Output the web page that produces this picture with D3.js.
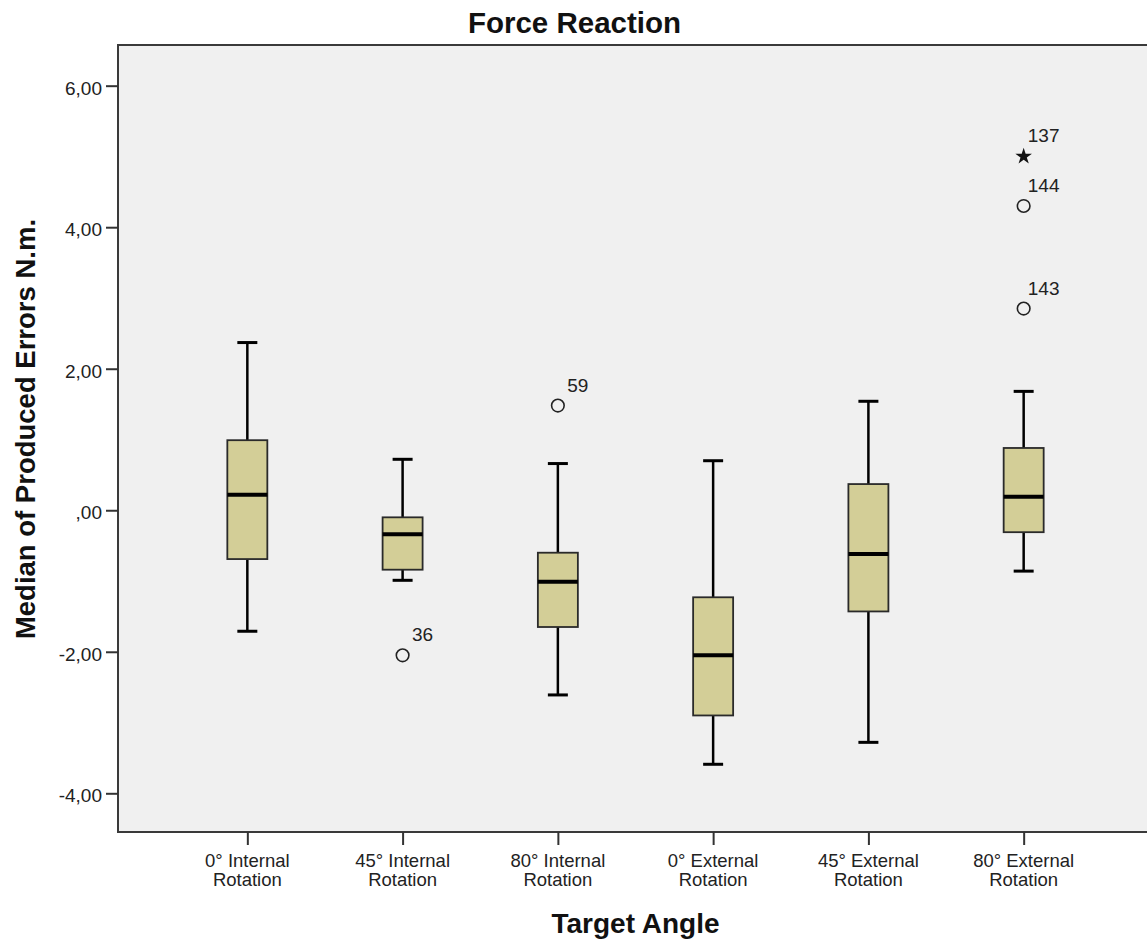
<!DOCTYPE html>
<html>
<head>
<meta charset="utf-8">
<script src="https://cdn.jsdelivr.net/npm/d3@7"></script>
<style>
  body { margin: 0; background: #fff; }
  svg { display: block; font-family: Arial, "Liberation Sans", sans-serif; }
</style>
</head>
<body>
<svg id="chart" width="1147" height="941"></svg>
<script>
const categories = [
  ["0° Internal", "Rotation"],
  ["45° Internal", "Rotation"],
  ["80° Internal", "Rotation"],
  ["0° External", "Rotation"],
  ["45° External", "Rotation"],
  ["80° External", "Rotation"]
];
const whiskerLow  = [-1.71, -0.99, -2.61, -3.59, -3.28, -0.86];
const q1          = [-0.69, -0.84, -1.65, -2.90, -1.43, -0.31];
const median      = [ 0.22, -0.34, -1.01, -2.05, -0.62,  0.19];
const q3          = [ 0.99, -0.10, -0.60, -1.23,  0.37,  0.88];
const whiskerHigh = [ 2.37,  0.72,  0.66,  0.70,  1.54,  1.68];

const outlierGroup = [1, 2, 5, 5, 5];
const outlierValue = [-2.05, 1.48, 5.00, 4.30, 2.85];
const outlierLabel = ["36", "59", "137", "144", "143"];
const outlierExtreme = [false, false, true, false, false];

const yTicks = [6, 4, 2, 0, -2, -4];

const svg = d3.select("#chart");
const plotLeft = 118, plotRight = 1153, plotTop = 45, plotBottom = 832;

const x = d3.scalePoint()
  .domain(d3.range(categories.length))
  .range([plotLeft, plotRight])
  .padding(0.833);

const y = d3.scaleLinear()
  .domain([-4.547, 6.575])
  .range([plotBottom, plotTop]);

const fmt = v => {
  const s = d3.format(".2f")(Math.abs(v)).replace(".", ",");
  const t = s.startsWith("0,") ? s.slice(1) : s;
  return (v < 0 ? "-" : "") + t;
};

// plot background + frame
svg.append("rect")
  .attr("x", plotLeft).attr("y", plotTop)
  .attr("width", plotRight - plotLeft).attr("height", plotBottom - plotTop)
  .attr("fill", "#f0f0f0")
  .attr("stroke", "#3a3a3a")
  .attr("stroke-width", 2);

// y axis
const yAxis = svg.append("g")
  .attr("transform", `translate(${plotLeft},0)`)
  .call(d3.axisLeft(y).tickValues(yTicks).tickFormat(fmt).tickSize(12).tickPadding(4));
yAxis.select(".domain").remove();
yAxis.selectAll(".tick line").attr("stroke", "#333").attr("stroke-width", 2);
yAxis.selectAll(".tick text")
  .attr("fill", "#222")
  .style("font-size", "19px")
  .attr("dy", "0.45em")
  .attr("font-family", "Arial, 'Liberation Sans', sans-serif");

// x axis
const xAxis = svg.append("g")
  .attr("transform", `translate(0,${plotBottom})`)
  .call(d3.axisBottom(x).tickSize(13).tickFormat(""));
xAxis.select(".domain").remove();
xAxis.selectAll(".tick line").attr("stroke", "#333").attr("stroke-width", 2);

const catLabels = svg.append("g");
categories.forEach((lines, i) => {
  const t = catLabels.append("text")
    .attr("x", x(i))
    .attr("y", 867)
    .attr("text-anchor", "middle")
    .attr("fill", "#222")
    .style("font-size", "18.5px");
  lines.forEach((ln, j) => {
    t.append("tspan")
      .attr("x", x(i))
      .attr("dy", j === 0 ? 0 : 19)
      .text(ln);
  });
});

// boxes
const boxW = 40, capW = 20;
const groups = svg.append("g")
  .selectAll("g")
  .data(d3.range(categories.length))
  .join("g");

groups.append("line")
  .attr("x1", i => x(i)).attr("x2", i => x(i))
  .attr("y1", i => y(whiskerHigh[i])).attr("y2", i => y(q3[i]))
  .attr("stroke", "#000").attr("stroke-width", 2.5);
groups.append("line")
  .attr("x1", i => x(i)).attr("x2", i => x(i))
  .attr("y1", i => y(q1[i])).attr("y2", i => y(whiskerLow[i]))
  .attr("stroke", "#000").attr("stroke-width", 2.5);
groups.append("line")
  .attr("x1", i => x(i) - capW / 2).attr("x2", i => x(i) + capW / 2)
  .attr("y1", i => y(whiskerHigh[i])).attr("y2", i => y(whiskerHigh[i]))
  .attr("stroke", "#000").attr("stroke-width", 3);
groups.append("line")
  .attr("x1", i => x(i) - capW / 2).attr("x2", i => x(i) + capW / 2)
  .attr("y1", i => y(whiskerLow[i])).attr("y2", i => y(whiskerLow[i]))
  .attr("stroke", "#000").attr("stroke-width", 3);
groups.append("rect")
  .attr("x", i => x(i) - boxW / 2)
  .attr("y", i => y(q3[i]))
  .attr("width", boxW)
  .attr("height", i => y(q1[i]) - y(q3[i]))
  .attr("fill", "#d3ce97")
  .attr("stroke", "#2a2a2a")
  .attr("stroke-width", 1.8);
groups.append("line")
  .attr("x1", i => x(i) - boxW / 2).attr("x2", i => x(i) + boxW / 2)
  .attr("y1", i => y(median[i])).attr("y2", i => y(median[i]))
  .attr("stroke", "#000").attr("stroke-width", 4);

// outliers
const out = svg.append("g")
  .selectAll("g")
  .data(d3.range(outlierValue.length))
  .join("g")
  .attr("transform", k => `translate(${x(outlierGroup[k])},${y(outlierValue[k])})`);

out.filter(k => !outlierExtreme[k]).append("circle")
  .attr("r", 6.3)
  .attr("fill", "none")
  .attr("stroke", "#222")
  .attr("stroke-width", 1.6);
out.filter(k => outlierExtreme[k]).append("path")
  .attr("d", d3.symbol(d3.symbolStar, 85))
  .attr("fill", "#111");
out.append("text")
  .attr("x", 20)
  .attr("y", -14)
  .attr("text-anchor", "middle")
  .attr("fill", "#222")
  .style("font-size", "19px")
  .text(k => outlierLabel[k]);

// titles
svg.append("text")
  .attr("x", 574.5).attr("y", 33)
  .attr("text-anchor", "middle")
  .attr("font-weight", "bold")
  .style("font-size", "29.5px")
  .attr("fill", "#111")
  .text("Force Reaction");

svg.append("text")
  .attr("x", 635.5).attr("y", 933)
  .attr("text-anchor", "middle")
  .attr("font-weight", "bold")
  .style("font-size", "28px")
  .attr("fill", "#111")
  .text("Target Angle");

svg.append("text")
  .attr("transform", "translate(35,429) rotate(-90)")
  .attr("text-anchor", "middle")
  .attr("font-weight", "bold")
  .style("font-size", "27.5px")
  .attr("fill", "#111")
  .text("Median of Produced Errors N.m.");
</script>
</body>
</html>
